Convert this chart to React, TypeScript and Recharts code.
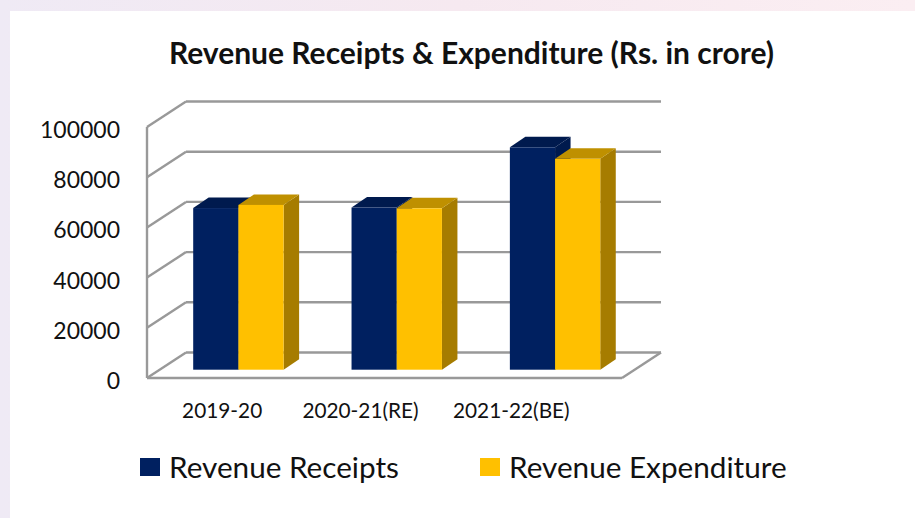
import { BarChart, Bar, XAxis, YAxis, CartesianGrid, Legend } from 'recharts';

const categories = ['2019-20', '2020-21(RE)', '2021-22(BE)'];
const receipts = [64400, 64600, 88600];
const expenditure = [65650, 64300, 84000];
const yTicks = [0, 20000, 40000, 60000, 80000, 100000];

const data = categories.map((name, i) => ({
  name,
  receipts: receipts[i],
  expenditure: expenditure[i],
}));

const FONT = 'Lato, Carlito, sans-serif';
const GRID = '#999999';
const GRID_W = 2.4;

// wall depth of the fake 3d box, and where the bars stand inside it
const WALL_DX = 39;
const WALL_DY = -25.5;
const BAR_SHIFT_X = 12.2;
const BAR_SHIFT_Y = -8.3;
const BAR_DX = 15.5;
const BAR_DY = -10.5;

const tickShift = [-4, -24, -31.5];

function Bar3D(props: any, topColor: string, sideColor: string) {
  const { fill, width, height } = props;
  const x = props.x + BAR_SHIFT_X;
  const y = props.y + BAR_SHIFT_Y;
  const r = x + width;
  const b = y + height;
  return (
    <g>
      <polygon
        points={`${r},${y} ${r + BAR_DX},${y + BAR_DY} ${r + BAR_DX},${b + BAR_DY} ${r},${b}`}
        fill={sideColor}
      />
      <polygon
        points={`${x},${y} ${x + BAR_DX},${y + BAR_DY} ${r + BAR_DX},${y + BAR_DY} ${r},${y}`}
        fill={topColor}
      />
      <rect x={x} y={y} width={width} height={height} fill={fill} />
    </g>
  );
}

function FloorAndWalls(props: any) {
  const { x1, x2, y1 } = props;
  const isFloor = y1 > 370;
  const backY = y1 + WALL_DY;
  return (
    <g key={`grid-${y1}`} stroke={GRID} strokeWidth={GRID_W}>
      <line x1={x1} y1={y1} x2={x1 + WALL_DX} y2={backY} />
      <line x1={x1 + WALL_DX} y1={backY} x2={x2 + WALL_DX} y2={backY} />
      {isFloor && <line x1={x2} y1={y1} x2={x2 + WALL_DX} y2={backY} />}
    </g>
  );
}

function CategoryTick(props: any) {
  const { x, y, payload, index } = props;
  return (
    <text
      x={x + tickShift[index]}
      y={y}
      dy={32}
      textAnchor="middle"
      fontFamily={FONT}
      fontSize={20.8}
      fill="#111"
    >
      {payload.value}
    </text>
  );
}

function ValueTick(props: any) {
  const { x, y, payload } = props;
  return (
    <text
      x={x + 6}
      y={y}
      dy={11}
      textAnchor="end"
      fontFamily={FONT}
      fontSize={23}
      fill="#111"
    >
      {payload.value}
    </text>
  );
}

function LegendRow(props: any) {
  const items = props.payload || [];
  return (
    <div style={{ position: 'relative', height: 40, fontFamily: FONT, fontSize: 29.7, color: '#111' }}>
      {items.map((item: any, i: number) => (
        <div
          key={item.value}
          style={{
            position: 'absolute',
            left: i === 0 ? 140 : 480,
            top: 0,
            display: 'flex',
            alignItems: 'center',
            whiteSpace: 'nowrap',
          }}
        >
          <span
            style={{
              display: 'inline-block',
              width: 20,
              height: 18,
              marginRight: 9,
              background: item.color,
            }}
          />
          {item.value}
        </div>
      ))}
    </div>
  );
}

export default function App() {
  return (
    <div
      style={{
        position: 'absolute',
        left: 0,
        top: 0,
        width: 915,
        height: 518,
        overflow: 'hidden',
        background: 'linear-gradient(90deg, #efeaf5 0%, #f6e9f0 50%, #fbeef2 100%)',
      }}
    >
      <div
        style={{
          position: 'absolute',
          left: 10,
          top: 11,
          width: 905,
          height: 507,
          background: '#fff',
        }}
      />
      <div
        style={{
          position: 'absolute',
          left: 0,
          top: 34,
          width: 943,
          textAlign: 'center',
          fontFamily: FONT,
          fontWeight: 700,
          fontSize: 30,
          lineHeight: '36px',
          color: '#111',
        }}
      >
        Revenue Receipts &amp; Expenditure (Rs. in crore)
      </div>
      <BarChart
        width={915}
        height={518}
        data={data}
        margin={{ top: 127, right: 293, bottom: 110, left: 47 }}
        barGap={0}
        barSize={45.2}
        style={{ position: 'absolute', left: 0, top: 0 }}
      >
        <CartesianGrid vertical={false} horizontal={FloorAndWalls as any} />
        <XAxis
          dataKey="name"
          height={30}
          tickLine={false}
          axisLine={{ stroke: GRID, strokeWidth: GRID_W }}
          interval={0}
          tick={CategoryTick as any}
        />
        <YAxis
          width={100}
          domain={[0, 100000]}
          ticks={yTicks}
          tickLine={false}
          axisLine={{ stroke: GRID, strokeWidth: GRID_W }}
          tickMargin={27}
          tick={ValueTick as any}
        />
        <Legend
          verticalAlign="middle"
          layout="horizontal"
          itemSorter={null}
          content={LegendRow as any}
          wrapperStyle={{ left: 0, top: 449, width: 915 }}
        />
        <Bar
          dataKey="receipts"
          name="Revenue Receipts"
          fill="#002060"
          isAnimationActive={false}
          shape={(p: any) => Bar3D(p, '#001a4e', '#001a4e')}
        />
        <Bar
          dataKey="expenditure"
          name="Revenue Expenditure"
          fill="#ffc000"
          isAnimationActive={false}
          shape={(p: any) => Bar3D(p, '#bf9000', '#a67c00')}
        />
      </BarChart>
    </div>
  );
}
